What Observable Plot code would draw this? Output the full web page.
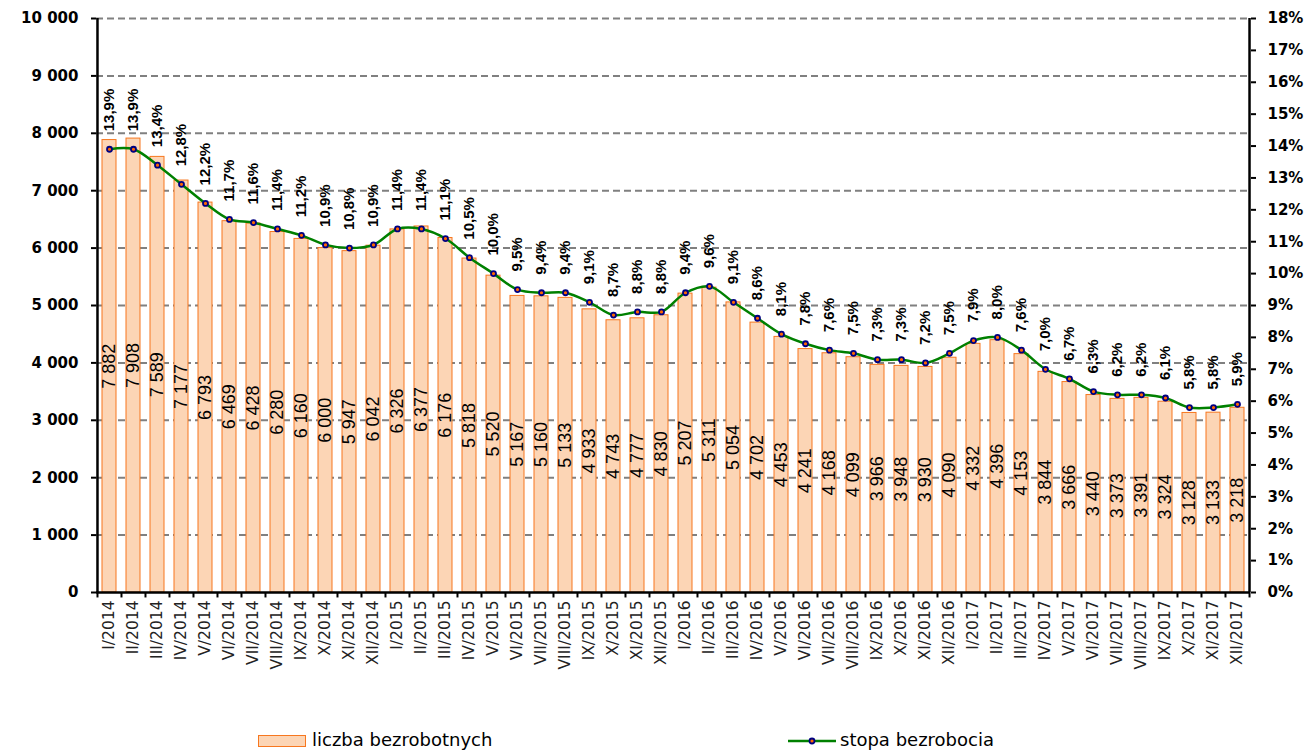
<!DOCTYPE html>
<html><head><meta charset="utf-8">
<script src="https://cdn.jsdelivr.net/npm/d3@7"></script>
<script src="https://cdn.jsdelivr.net/npm/@observablehq/plot@0.6"></script>
<style>
html,body{margin:0;padding:0;background:#fff;}
body{width:1316px;height:756px;overflow:hidden;position:relative;font-family:"DejaVu Sans",sans-serif;}
#chart{position:absolute;left:0;top:0;}
.lg{position:absolute;font-family:"DejaVu Sans",sans-serif;font-size:18px;color:#000;line-height:20px;white-space:nowrap;}
</style></head><body>
<div id="chart"></div>
<div class="lg" style="left:258px;top:735px;width:46px;height:10px;background:#fcd5b5;border:1px solid #f7771f;"></div>
<div class="lg" style="left:312px;top:730px;">liczba bezrobotnych</div>
<svg class="lg" style="left:788px;top:733px;" width="50" height="16"><line x1="0" x2="48" y1="8" y2="8" stroke="#008000" stroke-width="2.5"/><circle cx="24" cy="8" r="2.5" fill="#ff6600" stroke="#000080" stroke-width="1.8"/></svg>
<div class="lg" style="left:840px;top:730px;">stopa bezrobocia</div>
<script>
const months = ["I/2014","II/2014","III/2014","IV/2014","V/2014","VI/2014","VII/2014","VIII/2014","IX/2014","X/2014","XI/2014","XII/2014",
"I/2015","II/2015","III/2015","IV/2015","V/2015","VI/2015","VII/2015","VIII/2015","IX/2015","X/2015","XI/2015","XII/2015",
"I/2016","II/2016","III/2016","IV/2016","V/2016","VI/2016","VII/2016","VIII/2016","IX/2016","X/2016","XI/2016","XII/2016",
"I/2017","II/2017","III/2017","IV/2017","V/2017","VI/2017","VII/2017","VIII/2017","IX/2017","X/2017","XI/2017","XII/2017"];
const unemployed = [7882,7908,7589,7177,6793,6469,6428,6280,6160,6000,5947,6042,
6326,6377,6176,5818,5520,5167,5160,5133,4933,4743,4777,4830,
5207,5311,5054,4702,4453,4241,4168,4099,3966,3948,3930,4090,
4332,4396,4153,3844,3666,3440,3373,3391,3324,3128,3133,3218];
const rate = [13.9,13.9,13.4,12.8,12.2,11.7,11.6,11.4,11.2,10.9,10.8,10.9,
11.4,11.4,11.1,10.5,10.0,9.5,9.4,9.4,9.1,8.7,8.8,8.8,
9.4,9.6,9.1,8.6,8.1,7.8,7.6,7.5,7.3,7.3,7.2,7.5,
7.9,8.0,7.6,7.0,6.7,6.3,6.2,6.2,6.1,5.8,5.8,5.9];
const leftTicks = [0,1000,2000,3000,4000,5000,6000,7000,8000,9000,10000];
const rightTicks = [0,1,2,3,4,5,6,7,8,9,10,11,12,13,14,15,16,17,18];

const yMax = 10000, pMax = 18;
const toY = p => p * yMax / pMax;
const data = months.map((m, i) => ({month: m, count: unemployed[i], rate: rate[i]}));
const fmtNum = n => d3.format(",")(n).replace(/,/g, " ");
const fmtPct = p => d3.format(".1f")(p).replace(".", ",") + "%";

const W = 1316, H = 700, mL = 96, mR = 66, mT = 18, mB = H - 592;
const step = (W - mL - mR) / months.length;

const chart = Plot.plot({
  width: W, height: H, marginLeft: mL, marginRight: mR, marginTop: mT, marginBottom: mB,
  style: {background: "#fff", overflow: "visible"},
  x: {type: "band", domain: months, paddingInner: 0.4, paddingOuter: 0.2, label: null},
  y: {domain: [0, yMax], label: null},
  marks: [
    Plot.gridY(leftTicks.slice(1), {stroke: "#808080", strokeOpacity: 1, strokeWidth: 2, strokeDasharray: "7,4"}),
    Plot.barY(data, {x: "month", y: "count", fill: "#fcd5b5", stroke: "#f7771f", strokeWidth: 1}),
    Plot.text(data, {x: "month", y: d => d.count / 2, text: d => fmtNum(d.count), rotate: -90,
      fontSize: 18, fontFamily: "Liberation Sans", fill: "#000"}),
    Plot.line(data, {x: "month", y: d => toY(d.rate), stroke: "#008000", strokeWidth: 2.5, curve: "catmull-rom"}),
    Plot.dot(data, {x: "month", y: d => toY(d.rate), r: 2.5, fill: "#ff6600", stroke: "#000080", strokeWidth: 1.8}),
    Plot.text(data, {x: "month", y: d => toY(d.rate), text: d => fmtPct(d.rate), rotate: -90, textAnchor: "start",
      dy: -18, fontWeight: "bold", fontSize: 15, fontFamily: "Liberation Sans", fill: "#000"}),
    Plot.axisY({anchor: "left", ticks: leftTicks, tickFormat: fmtNum, tickSize: 5, tickPadding: 13, label: null,
      fontSize: 15, fontWeight: "bold", fontFamily: "DejaVu Sans", color: "#000", strokeWidth: 2}),
    Plot.axisY({anchor: "right", ticks: rightTicks.map(toY), tickFormat: v => Math.round(v * pMax / yMax) + "%", label: null,
      tickSize: 5, tickPadding: 12, fontSize: 15, fontWeight: "bold", fontFamily: "DejaVu Sans", color: "#000", strokeWidth: 2}),
    Plot.axisX({tickSize: 0, tickRotate: -90, tickPadding: 8, label: null, fontSize: 15.5, fontFamily: "DejaVu Sans", color: "#222"}),
    Plot.ruleX(months, {x: d => d, y1: 0, y2: -95, dx: -step / 2, stroke: "#000", strokeWidth: 2}),
    Plot.ruleX([months[months.length - 1]], {x: d => d, y1: 0, y2: -95, dx: step / 2, stroke: "#000", strokeWidth: 2}),
    Plot.ruleX([months[0]], {x: d => d, y1: 0, y2: yMax, dx: -step / 2, stroke: "#000", strokeWidth: 2.5}),
    Plot.ruleX([months[months.length - 1]], {x: d => d, y1: 0, y2: yMax, dx: step / 2, stroke: "#000", strokeWidth: 2.5}),
    Plot.ruleY([0], {stroke: "#000", strokeWidth: 2.5})
  ]
});
document.getElementById("chart").appendChild(chart);
</script>
</body></html>
